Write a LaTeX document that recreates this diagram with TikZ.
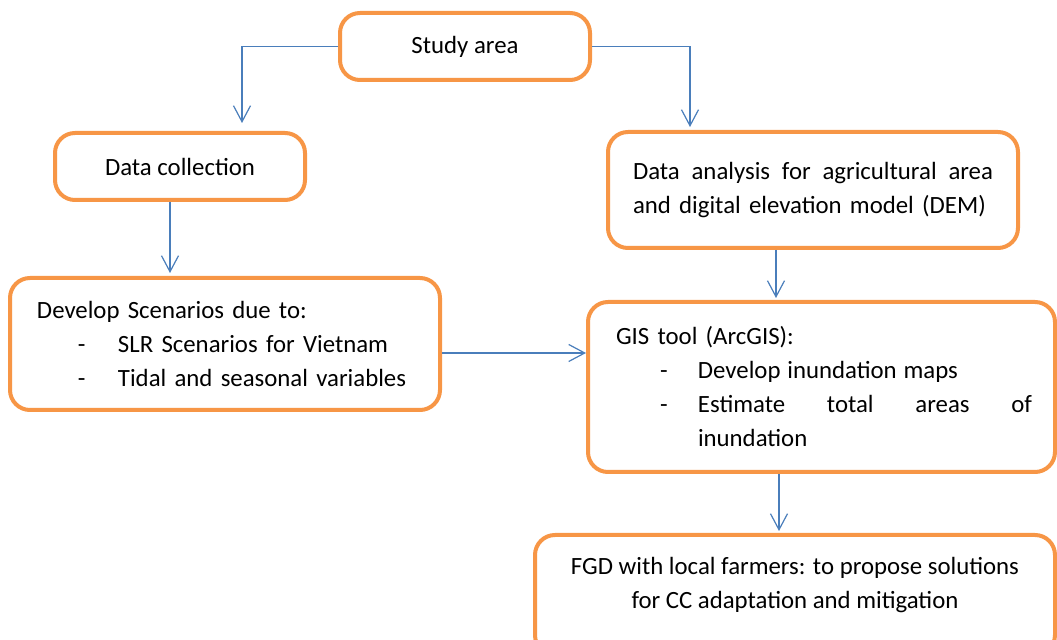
\documentclass[tikz,border=0pt]{standalone}
\usepackage{fontspec}
\setmainfont{Carlito}
\usetikzlibrary{arrows.meta, positioning, calc}
\definecolor{boxorange}{RGB}{247,150,70}
\definecolor{linkblue}{RGB}{74,126,187}

\begin{document}
\begin{tikzpicture}[
    x=0.5pt, y=-0.5pt,
    box/.style={rectangle, draw=boxorange, fill=white, line width=2pt, rounded corners=10pt, inner sep=0pt, align=center, font=\fontsize{12.4}{17}\selectfont},
    arrow/.style={-{Straight Barb[length=8pt, width=8.5pt]}, linkblue, line width=0.6pt}
]
    \clip (0,0) rectangle (1057,640);

    % Boxes
    \node[box, minimum width=125pt, minimum height=33.5pt] (study) at (465,46.5) {Study area};
    \node[box, minimum width=125pt, minimum height=33.5pt] (collect) at (180,166.5) {Data collection};
    \node[box, minimum width=205pt, minimum height=58pt, text width=180pt, align=left] (analysis) at (813,190)
        {\hbox to 180pt{Data\hfill analysis\hfill for\hfill agricultural\hfill area}\\and digital elevation model (DEM)};
    \node[box, minimum width=215pt, minimum height=66pt, text width=188pt, align=left] (develop) at (225,344)
        {Develop Scenarios due to:\\
         \hspace*{20.5pt}\makebox[20pt][l]{-}SLR Scenarios for Vietnam\\
         \hspace*{20.5pt}\makebox[20pt][l]{-}Tidal and seasonal variables};
    \node[box, minimum width=233.5pt, minimum height=85pt, text width=205.5pt, align=left] (gis) at (821.5,387)
        {GIS tool (ArcGIS):\\
         \hspace*{22pt}\makebox[19pt][l]{-}\hbox to 130pt{Develop\hfill inundation\hfill maps}\\
         \hspace*{22pt}\makebox[19pt][l]{-}\hbox to 167pt{Estimate\hfill total\hfill areas\hfill of}\\
         \hspace*{41pt}inundation};
    \node[box, minimum width=260pt, minimum height=60pt, text depth=12pt] (fgd) at (795,595)
        {FGD with local farmers: to propose solutions\\for CC adaptation and mitigation};

    % Arrows
    \coordinate (devout) at ([yshift=-4.5pt]develop.east);
    \draw[arrow, shorten >=4pt] (study.west) -| ([xshift=31pt]collect.north);
    \draw[arrow, shorten >=1.5pt] (study.east) -| ([xshift=-61.5pt]analysis.north);
    \draw[arrow, shorten >=1.5pt] ([xshift=-5pt]collect.south) -- ([xshift=-27.5pt]develop.north);
    \draw[arrow, shorten >=1pt] ([xshift=-18.5pt]analysis.south) -- ([xshift=-22.75pt]gis.north);
    \draw[arrow] (devout) -- (devout -| gis.west);
    \draw[arrow, shorten >=1pt] ([xshift=-21.25pt]gis.south) -- ([xshift=-8pt]fgd.north);

\end{tikzpicture}
\end{document}
